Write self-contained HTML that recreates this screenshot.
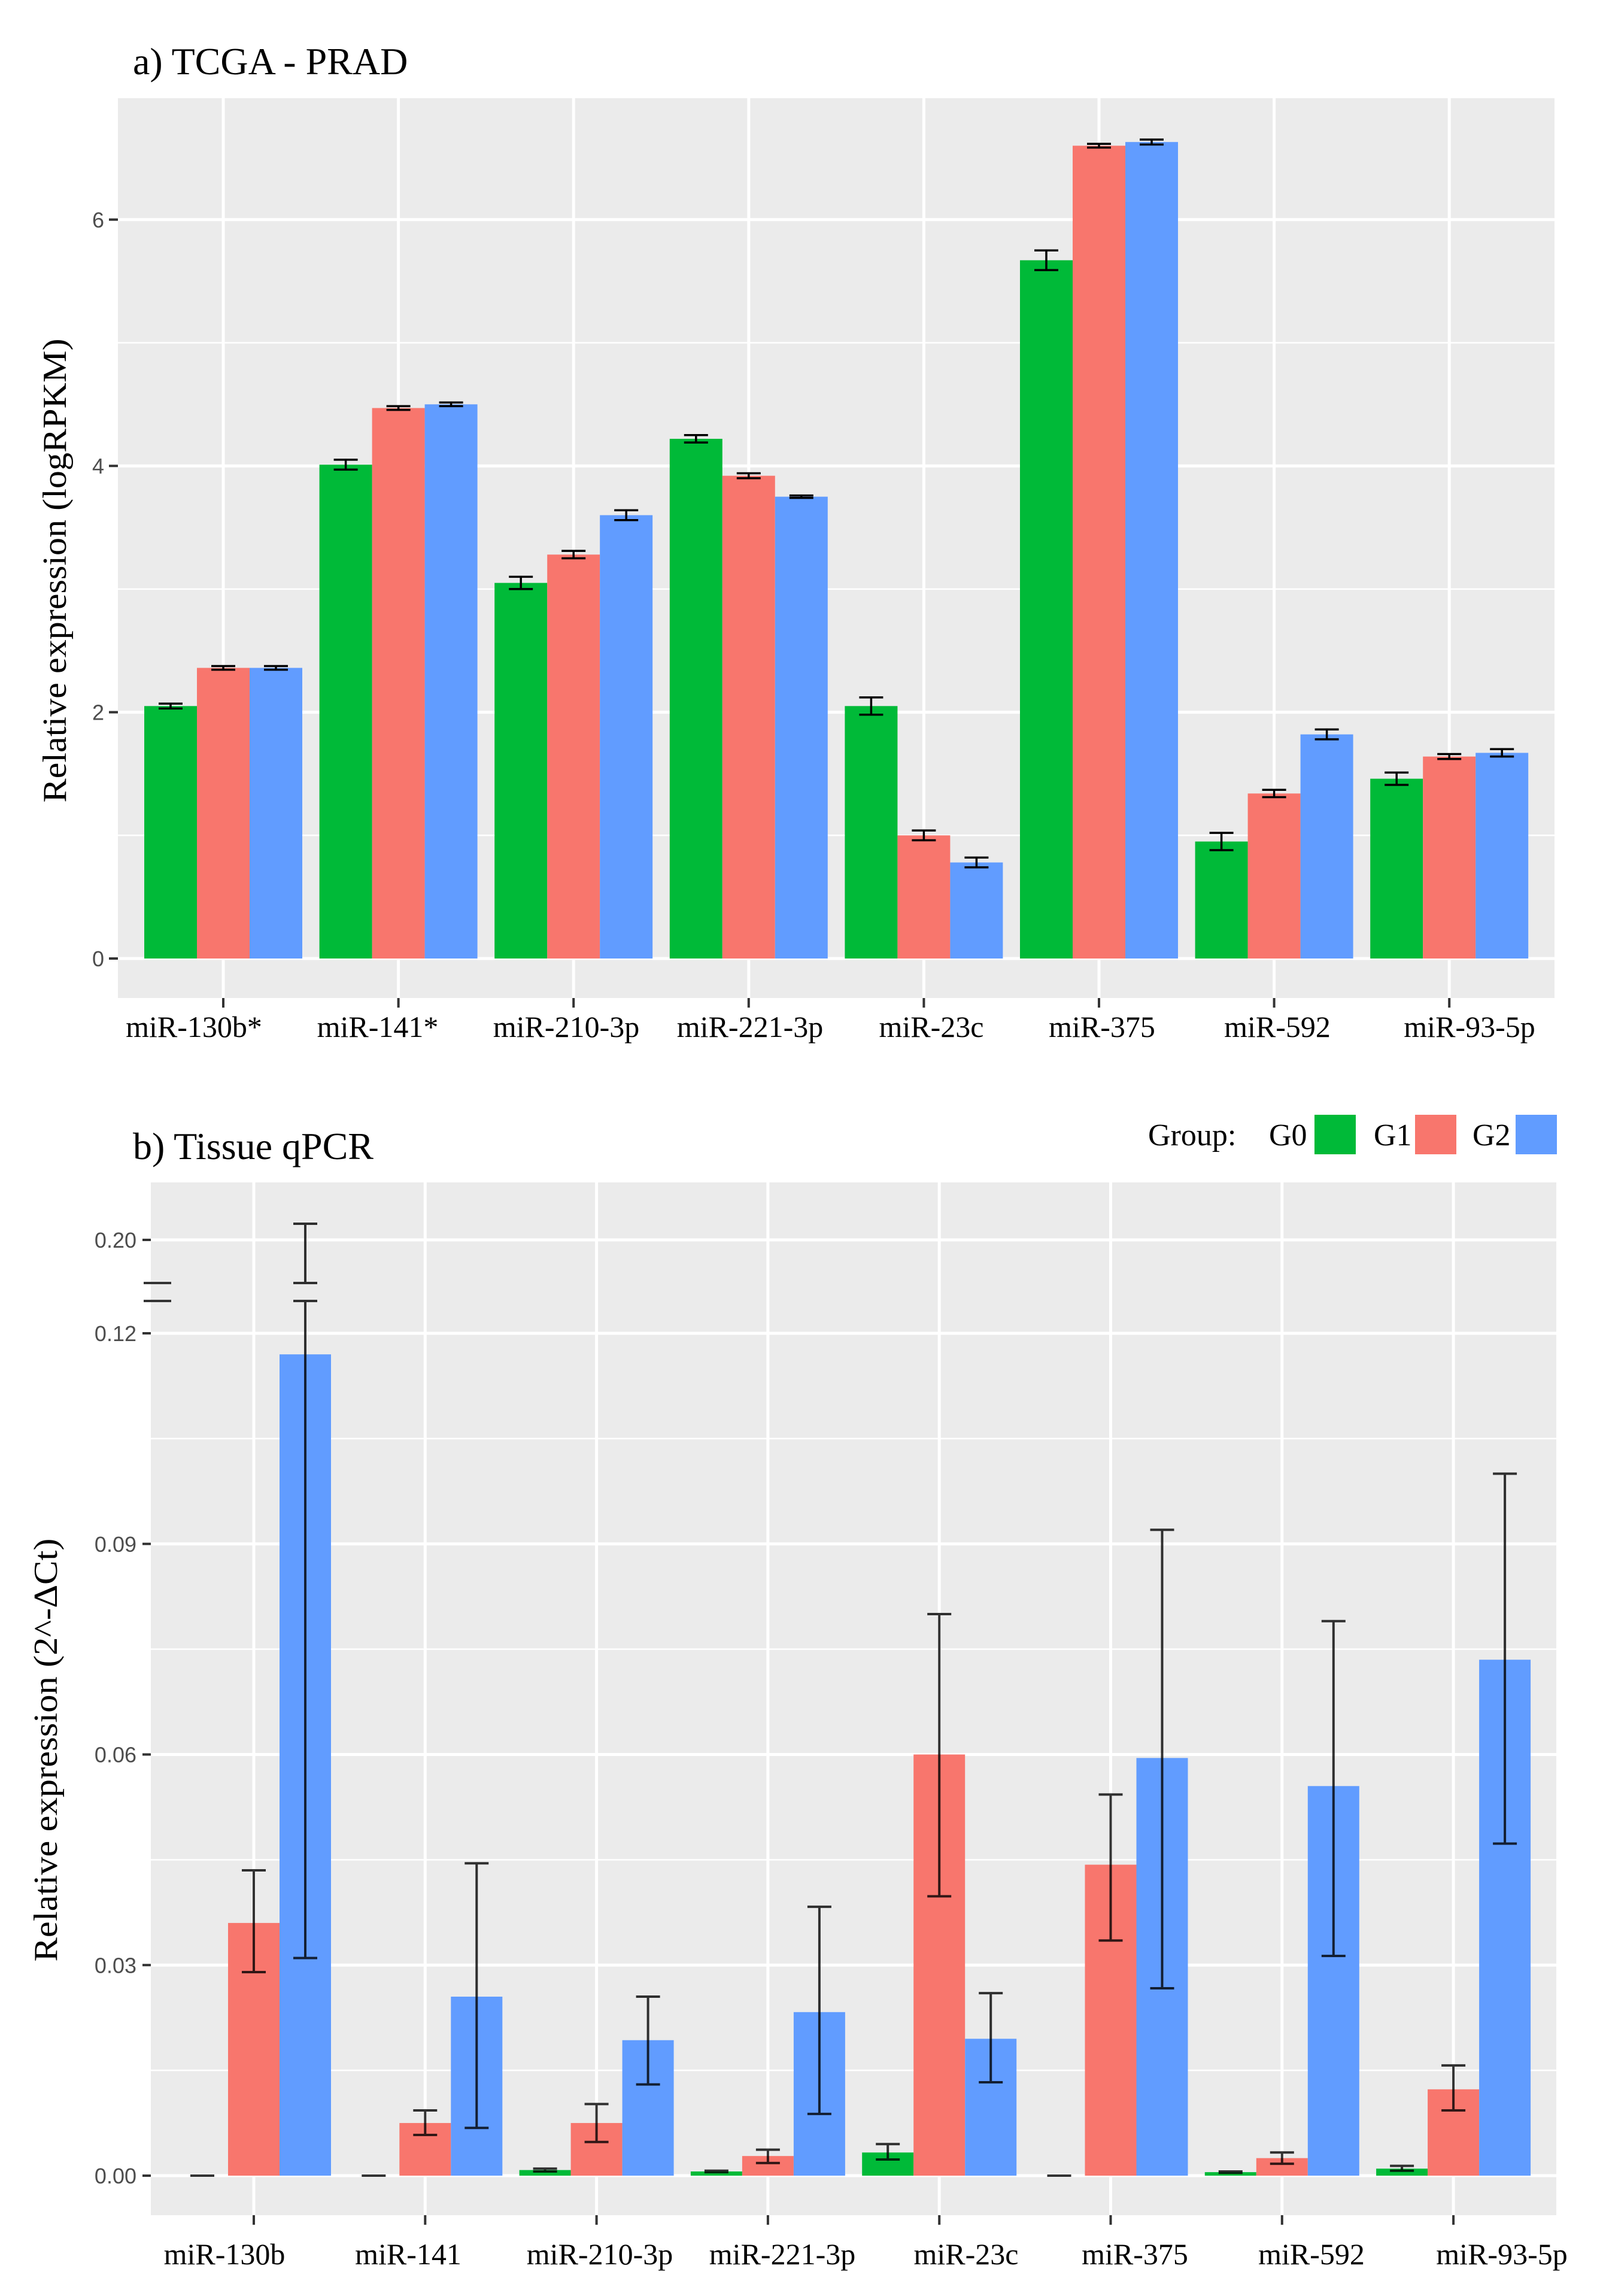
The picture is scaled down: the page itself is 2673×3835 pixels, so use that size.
<!DOCTYPE html>
<html><head><meta charset="utf-8"><style>
html,body{margin:0;padding:0;background:#fff;}
svg{display:block;}
text{font-family:"Liberation Serif",serif;fill:#000;}
.tick{font-family:"Liberation Sans",sans-serif;fill:#4D4D4D;font-size:36px;}
</style></head><body>
<svg id="chart" width="2673" height="3835" viewBox="0 0 2673 3835" xmlns="http://www.w3.org/2000/svg">
<g id="top"></g>
<g id="bot"></g>
</svg>
<script>
// ---- Panel a data ----
const catsA = ["miR-130b*","miR-141*","miR-210-3p","miR-221-3p","miR-23c","miR-375","miR-592","miR-93-5p"];
const a_G0 = [2.05,4.01,3.05,4.22,2.05,5.67,0.95,1.46];
const a_G1 = [2.36,4.47,3.28,3.92,1.00,6.60,1.34,1.64];
const a_G2 = [2.36,4.50,3.60,3.75,0.78,6.63,1.82,1.67];
const a_E0 = [0.02,0.04,0.05,0.03,0.07,0.08,0.07,0.05];
const a_E1 = [0.015,0.015,0.03,0.02,0.04,0.015,0.03,0.02];
const a_E2 = [0.015,0.015,0.04,0.01,0.04,0.02,0.04,0.03];
const a_ticks = [0,2,4,6];
// ---- Panel b data ----
const catsB = ["miR-130b","miR-141","miR-210-3p","miR-221-3p","miR-23c","miR-375","miR-592","miR-93-5p"];
const b_G0 = [0,0,0.0008,0.0006,0.0033,0,0.0005,0.001];
const b_G0lo = [0,0,0.0006,0.0005,0.0023,0,0.0004,0.0007];
const b_G0hi = [0,0,0.001,0.0007,0.0045,0,0.0006,0.0014];
const b_G1 = [0.036,0.0075,0.0075,0.0028,0.060,0.0443,0.0025,0.0123];
const b_G1lo = [0.029,0.0058,0.0048,0.0018,0.0398,0.0335,0.0017,0.0093];
const b_G1hi = [0.0435,0.0093,0.0102,0.0037,0.080,0.0543,0.0033,0.0157];
const b_G2 = [0.117,0.0255,0.0193,0.0233,0.0195,0.0595,0.0555,0.0735];
const b_G2lo = [0.031,0.0068,0.013,0.0088,0.0133,0.0267,0.0313,0.0473];
const b_G2hi = [0.21,0.0445,0.0255,0.0383,0.026,0.092,0.079,0.100];
const b_ticks = [0,0.03,0.06,0.09,0.12,0.20];
const b_tickLabels = ["0.00","0.03","0.06","0.09","0.12","0.20"];
const colors = ["#00BA38","#F8766D","#619CFF"];
const NS="http://www.w3.org/2000/svg";
function mk(parent,tag,attrs,txt){const e=document.createElementNS(NS,tag);for(const k in attrs)e.setAttribute(k,attrs[k]);if(txt!==undefined)e.textContent=txt;parent.appendChild(e);return e;}

// ===== Panel a =====
(function(){
 const g=document.getElementById('top');
 const L=197,R=2597,T=164,B=1667;
 const y=v=>1601-205.7*v;
 const x0=373,step=292.6; const xc=i=>x0+step*i;
 const bw=88;
 const bg=mk(g,'rect',{x:L,y:T,width:R-L,height:B-T,fill:'#EBEBEB'});
 
 
 [1,3,5].forEach(v=>{const l=mk(g,'line',{x1:L,x2:R,y1:y(v),y2:y(v),stroke:'#fff','stroke-width':2.5});
  });
 a_ticks.forEach(v=>{const l=mk(g,'line',{x1:L,x2:R,y1:y(v),y2:y(v),stroke:'#fff','stroke-width':5});
  
  mk(g,'line',{x1:182,x2:L,y1:y(v),y2:y(v),stroke:'#333','stroke-width':4});
  const t=mk(g,'text',{x:174,y:y(v)+13,'text-anchor':'end',class:'tick'},String(v));
  });
 catsA.forEach((c,i)=>{const l=mk(g,'line',{x1:xc(i),x2:xc(i),y1:T,y2:B,stroke:'#fff','stroke-width':5});
  
  mk(g,'line',{x1:xc(i),x2:xc(i),y1:B,y2:B+16,stroke:'#333','stroke-width':4});});
 const vals=[a_G0,a_G1,a_G2],errs=[a_E0,a_E1,a_E2];
 catsA.forEach((c,i)=>{
  for(let s=0;s<3;s++){
   const x=xc(i)-1.5*bw+s*bw;const v=vals[s][i];
   const r=mk(g,'rect',{x:x,y:y(v),width:bw,height:y(0)-y(v),fill:colors[s]});
   
   const cx=x+bw/2,lo=y(v-errs[s][i]),hi=y(v+errs[s][i]);
   const eb=mk(g,'path',{d:`M${cx-20},${hi}H${cx+20}M${cx},${hi}V${lo}M${cx-20},${lo}H${cx+20}`,stroke:'#000','stroke-width':3.5,fill:'none'});
   
  }
 });
 const xl=[324,631,946,1253,1556,1841,2134,2455];
 catsA.forEach((c,i)=>{const t=mk(g,'text',{x:xl[i],y:1732,'text-anchor':'middle','font-size':50},c);
  });
 const tt=mk(g,'text',{x:222,y:124,'font-size':64},'a) TCGA - PRAD');
 
 const yt=mk(g,'text',{x:0,y:0,'font-size':56,'text-anchor':'middle',transform:'translate(110,953) rotate(-90)',textLength:775,lengthAdjust:'spacingAndGlyphs'},'Relative expression (logRPKM)');
 
})();

// ===== Panel b =====
(function(){
 const g=document.getElementById('bot');
 const L=252,R=2600,T=1975,B=3700;
 const y=v=>v<=0.13?3634-11725*v:2071-(v-0.2)*2700;
 const x0=424,step=286.3; const xc=i=>x0+step*i;
 const bw=86;
 const bg=mk(g,'rect',{x:L,y:T,width:R-L,height:B-T,fill:'#EBEBEB'});
 
 [0.015,0.045,0.075,0.105].forEach(v=>{const l=mk(g,'line',{x1:L,x2:R,y1:y(v),y2:y(v),stroke:'#fff','stroke-width':2.5});
  });
 b_ticks.forEach((v,k)=>{const l=mk(g,'line',{x1:L,x2:R,y1:y(v),y2:y(v),stroke:'#fff','stroke-width':5});
  
  mk(g,'line',{x1:238,x2:L,y1:y(v),y2:y(v),stroke:'#333','stroke-width':4});
  const t=mk(g,'text',{x:228,y:y(v)+13,'text-anchor':'end',class:'tick'},b_tickLabels[k]);
  });
 const brk=mk(g,'path',{d:'M240,2143H286M240,2173H286',stroke:'#333','stroke-width':4});
 
 catsB.forEach((c,i)=>{const l=mk(g,'line',{x1:xc(i),x2:xc(i),y1:T,y2:B,stroke:'#fff','stroke-width':5});
  
  mk(g,'line',{x1:xc(i),x2:xc(i),y1:B,y2:B+16,stroke:'#333','stroke-width':4});});
 const vals=[b_G0,b_G1,b_G2],los=[b_G0lo,b_G1lo,b_G2lo],his=[b_G0hi,b_G1hi,b_G2hi];
 catsB.forEach((c,i)=>{
  for(let s=0;s<3;s++){
   const x=xc(i)-1.5*bw+s*bw;const v=vals[s][i];
   const r=mk(g,'rect',{x:x,y:y(v),width:bw,height:y(0)-y(v),fill:colors[s]});
   
   const cx=x+bw/2,lo=y(los[s][i]),hi=y(his[s][i]);
   let d;
   if(his[s][i]>0.13){d=`M${cx-20},${lo}H${cx+20}M${cx},${lo}V2173M${cx-20},2173H${cx+20}M${cx-20},2143H${cx+20}M${cx},2143V${hi}M${cx-20},${hi}H${cx+20}`;}
   else d=`M${cx-20},${hi}H${cx+20}M${cx},${hi}V${lo}M${cx-20},${lo}H${cx+20}`;
   const eb=mk(g,'path',{d:d,stroke:'#000','stroke-width':4,fill:'none','stroke-opacity':0.8});
   
  }
 });
 const xl=[375,682,1002,1307,1614,1896,2191,2509];
 catsB.forEach((c,i)=>{const t=mk(g,'text',{x:xl[i],y:3782,'text-anchor':'middle','font-size':50},c);
  });
 const tt=mk(g,'text',{x:222,y:1936,'font-size':64},'b) Tissue qPCR');
 
 const yt=mk(g,'text',{x:0,y:0,'font-size':56,'text-anchor':'middle',transform:'translate(95,2923) rotate(-90)',textLength:707,lengthAdjust:'spacingAndGlyphs'},'Relative expression (2^-ΔCt)');
 
 // legend
 const lg=mk(g,'g',{});
 
 mk(lg,'text',{x:1918,y:1913,'font-size':52},'Group:');
 const lx=[2120,2295,2460],sx=[2196,2364,2532];
 ['G0','G1','G2'].forEach((n,k)=>{
  const t=mk(lg,'text',{x:lx[k],y:1913,'font-size':52},n);
  
  const r=mk(lg,'rect',{x:sx[k],y:1862,width:69,height:66,fill:colors[k]});
  
 });
})();
</script>
</body></html>
